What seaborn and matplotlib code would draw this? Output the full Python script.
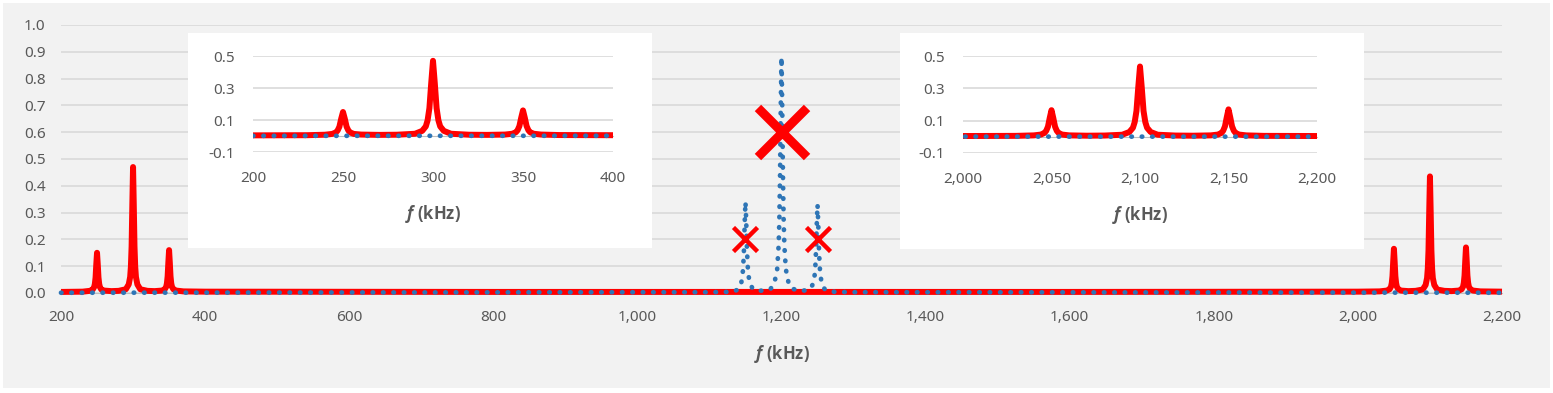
import numpy as np
import pandas as pd
import seaborn as sns
import matplotlib.pyplot as plt
from matplotlib.patches import Rectangle
from matplotlib.ticker import FuncFormatter, MultipleLocator

# red trace (solid)
red_f = [200, 230, 240, 244, 246, 247, 248, 249, 250, 251, 252, 253, 254, 256, 260, 270,
         280, 290, 294, 296, 297, 298, 299, 300, 301, 302, 303, 304, 306, 310, 320,
         330, 340, 344, 346, 347, 348, 349, 350, 351, 352, 353, 354, 356, 360, 370, 400,
         800, 1600, 2000, 2030, 2040, 2044, 2046, 2047, 2048, 2049, 2050, 2051, 2052, 2053,
         2054, 2056, 2060, 2070, 2080, 2090, 2094, 2096, 2097, 2098, 2099, 2100, 2101, 2102,
         2103, 2104, 2106, 2110, 2120, 2130, 2140, 2144, 2146, 2147, 2148, 2149, 2150, 2151,
         2152, 2153, 2154, 2156, 2160, 2170, 2200]
red_a = [0.004, 0.005, 0.008, 0.013, 0.022, 0.034, 0.058, 0.108, 0.150, 0.108, 0.058, 0.034, 0.022, 0.013, 0.009, 0.007,
         0.008, 0.014, 0.032, 0.060, 0.098, 0.174, 0.329, 0.470, 0.329, 0.174, 0.098, 0.060, 0.032, 0.014, 0.008,
         0.007, 0.009, 0.014, 0.023, 0.036, 0.062, 0.114, 0.160, 0.114, 0.062, 0.036, 0.023, 0.014, 0.009, 0.006, 0.005,
         0.004, 0.004, 0.005, 0.006, 0.009, 0.014, 0.024, 0.037, 0.063, 0.117, 0.165, 0.117, 0.063, 0.037,
         0.024, 0.014, 0.009, 0.007, 0.008, 0.013, 0.030, 0.056, 0.091, 0.160, 0.304, 0.435, 0.304, 0.160,
         0.091, 0.056, 0.030, 0.013, 0.008, 0.007, 0.009, 0.014, 0.024, 0.038, 0.065, 0.120, 0.170, 0.120,
         0.065, 0.038, 0.024, 0.014, 0.009, 0.006, 0.005]

# blue trace (dotted)
blue_f = [200, 1100, 1125, 1135, 1140, 1144, 1146, 1147, 1148, 1149, 1150, 1151, 1152, 1153, 1154,
          1156, 1160, 1165, 1175, 1185, 1190, 1194, 1196, 1197, 1198, 1199, 1200, 1201, 1202, 1203,
          1204, 1206, 1210, 1215, 1225, 1235, 1240, 1244, 1246, 1247, 1248, 1249, 1250, 1251, 1252,
          1253, 1254, 1256, 1260, 1265, 1275, 1300, 2200]
blue_a = [0.001, 0.003, 0.004, 0.007, 0.014, 0.035, 0.068, 0.105, 0.170, 0.270, 0.340, 0.270, 0.170, 0.105, 0.069,
          0.036, 0.016, 0.010, 0.008, 0.016, 0.035, 0.089, 0.176, 0.270, 0.440, 0.700, 0.880, 0.700, 0.440, 0.270,
          0.176, 0.089, 0.035, 0.016, 0.008, 0.010, 0.016, 0.035, 0.067, 0.100, 0.165, 0.260, 0.330, 0.260, 0.165,
          0.100, 0.066, 0.034, 0.014, 0.007, 0.004, 0.003, 0.001]

# red crosses over the blue peaks
mark_f = [1150, 1200, 1250]
mark_a = [0.2, 0.6, 0.2]
mark_big = [False, True, False]

main_yticks = [0.0, 0.1, 0.2, 0.3, 0.4, 0.5, 0.6, 0.7, 0.8, 0.9, 1.0]
inset_yticks = [-0.1, 0.1, 0.3, 0.5]
left_xlim, right_xlim = (200, 400), (2000, 2200)

RED = "#ff0000"
BLUE = "#2e75b6"
GRID = "#d9d9d9"
AXC = "#bfbfbf"
TXT = "#595959"

sns.set_style("white")
plt.rcParams["font.family"] = ["Noto Sans", "DejaVu Sans"]
plt.rcParams["mathtext.fontset"] = "custom"
plt.rcParams["mathtext.it"] = "Open Sans:italic:bold"

red = pd.DataFrame({"f": red_f, "a": red_a})
blue = pd.DataFrame({"f": blue_f, "a": blue_a})

W, H = 1553, 393
fig = plt.figure(figsize=(W / 100, H / 100), dpi=100)
fig.patches.append(Rectangle((3 / W, 1 - 388 / H), 1547 / W, 385 / H, transform=fig.transFigure,
                             facecolor="#f2f2f2", edgecolor="none", zorder=-10))

comma = FuncFormatter(lambda v, p: f"{v:,.0f}")
onedec = FuncFormatter(lambda v, p: f"{v:.1f}")
label_font = dict(family=["Open Sans", "DejaVu Sans"], fontsize=12, fontweight="bold", color=TXT)


def draw_traces(ax, clip):
    sns.lineplot(data=red, x="f", y="a", ax=ax, color=RED, lw=4.3, sort=False,
                 estimator=None, clip_on=clip, zorder=3, solid_capstyle="butt")
    sns.lineplot(data=blue, x="f", y="a", ax=ax, color=BLUE, lw=3.4, sort=False,
                 estimator=None, clip_on=clip, zorder=4,
                 linestyle=(0, (0.1, 2.1)), dash_capstyle="round")


# main chart
ax = fig.add_axes([61 / W, 1 - 293 / H, 1441 / W, 268 / H])
ax.set_facecolor("none")
draw_traces(ax, False)
for big in (False, True):
    sel = [i for i in range(len(mark_f)) if mark_big[i] == big]
    sns.scatterplot(x=[mark_f[i] for i in sel], y=[mark_a[i] for i in sel], ax=ax,
                    marker="x", color=RED, s=1250 if big else 300,
                    linewidth=6.5 if big else 3.2, zorder=6, clip_on=False)
ax.set_xlim(200, 2200)
ax.set_ylim(0, 1.0)
ax.set_yticks(main_yticks)
ax.yaxis.set_major_formatter(onedec)
ax.xaxis.set_major_locator(MultipleLocator(200))
ax.xaxis.set_minor_locator(MultipleLocator(50))
ax.xaxis.set_major_formatter(comma)
ax.grid(axis="y", color=GRID, lw=1.2)
ax.set_axisbelow(True)
for s in ["top", "right", "left"]:
    ax.spines[s].set_visible(False)
ax.spines["bottom"].set_color(AXC)
ax.tick_params(axis="y", length=0, pad=11, labelsize=11, labelcolor=TXT)
ax.tick_params(axis="x", which="both", direction="out", length=3.5, width=1, color=AXC,
               pad=9, labelsize=11, labelcolor=TXT)
ax.set_xlabel(r"$f$ (kHz)", labelpad=13, **label_font)
ax.set_ylabel("")


def inset(box, pos, xlim, xfmt):
    bx = fig.add_axes(box)
    bx.set_facecolor("white")
    bx.set_xticks([])
    bx.set_yticks([])
    for s in bx.spines.values():
        s.set_visible(False)
    ia = fig.add_axes(pos)
    ia.set_facecolor("white")
    draw_traces(ia, True)
    ia.set_xlim(*xlim)
    ia.set_ylim(-0.1, 0.5)
    ia.set_yticks(inset_yticks)
    ia.yaxis.set_major_formatter(onedec)
    ia.xaxis.set_major_locator(MultipleLocator(50))
    ia.xaxis.set_major_formatter(xfmt)
    ia.grid(axis="y", color=GRID, lw=1.2)
    ia.set_axisbelow(True)
    for s in ["top", "right", "left"]:
        ia.spines[s].set_visible(False)
    ia.spines["bottom"].set_position(("data", 0))
    ia.spines["bottom"].set_color(AXC)
    ia.tick_params(axis="y", length=0, pad=13, labelsize=11, labelcolor=TXT)
    ia.tick_params(axis="x", direction="out", length=3.5, width=1, color=AXC,
                   pad=22, labelsize=11, labelcolor=TXT)
    ia.set_xlabel(r"$f$ (kHz)", labelpad=12, **label_font)
    ia.set_ylabel("")
    return ia


inset([188 / W, 1 - 248 / H, 464 / W, 215 / H], [253 / W, 1 - 152 / H, 360 / W, 96 / H],
      left_xlim, FuncFormatter(lambda v, p: f"{v:.0f}"))
inset([900 / W, 1 - 249 / H, 464 / W, 216 / H], [963 / W, 1 - 153 / H, 354 / W, 97 / H],
      right_xlim, comma)

fig.savefig("out.png", dpi=100, facecolor="white")
